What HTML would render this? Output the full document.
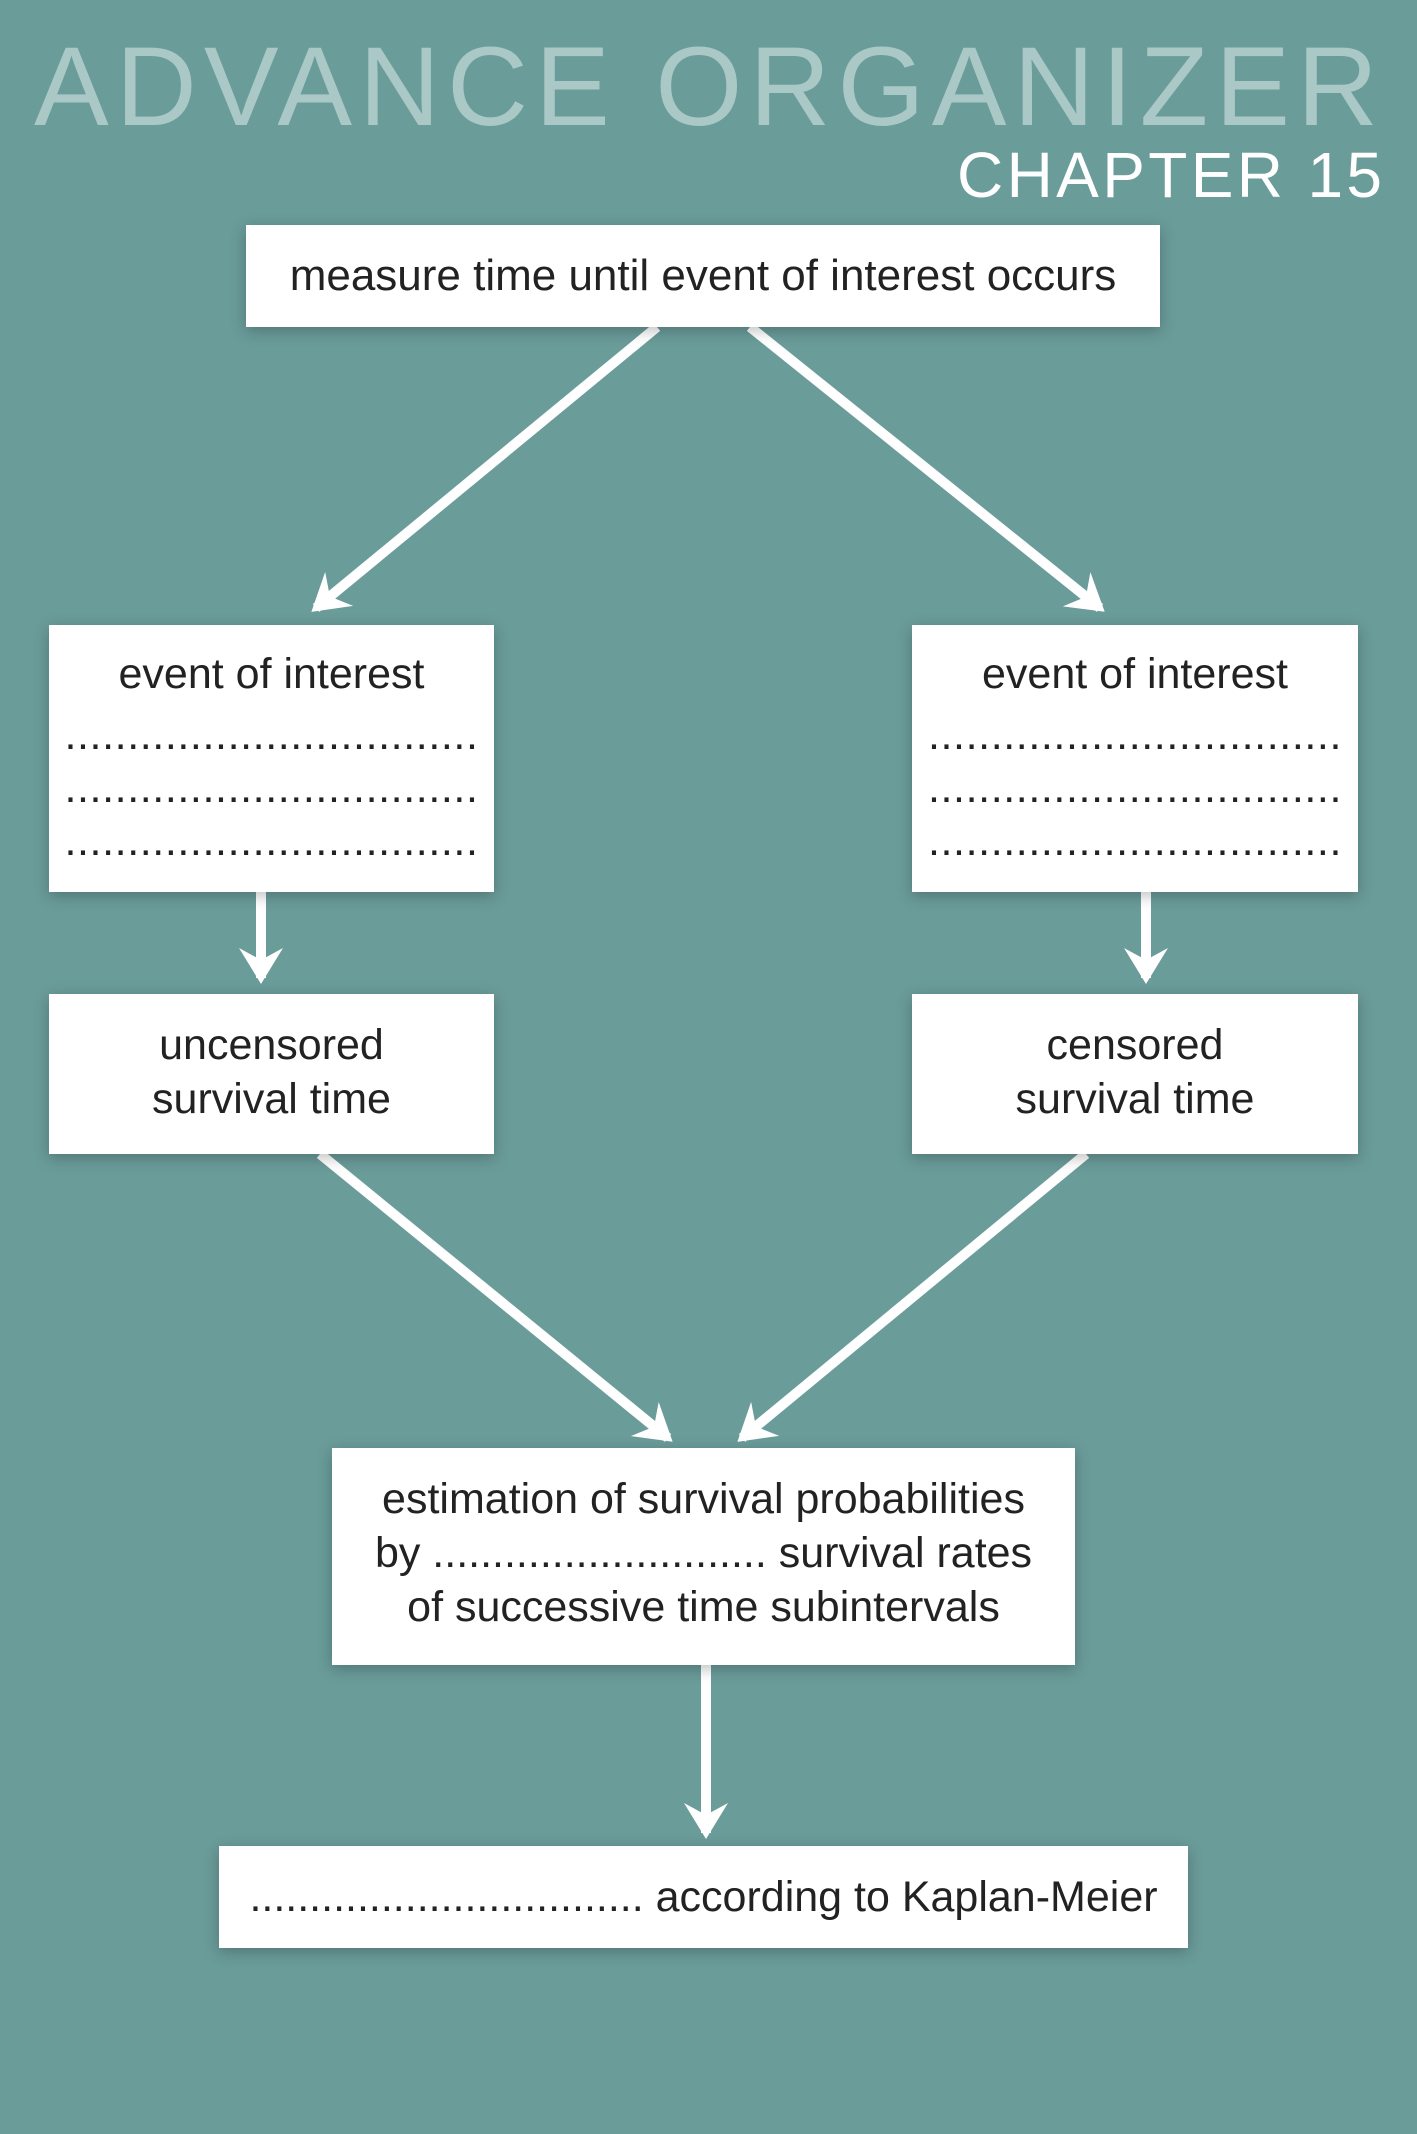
<!DOCTYPE html>
<html><head><meta charset="utf-8"><style>
html,body{margin:0;padding:0}
body{width:1417px;height:2134px;background:#6a9c9a;position:relative;overflow:hidden;font-family:"Liberation Sans",sans-serif}
.b{position:absolute;background:#fff;box-shadow:0 4px 14px rgba(0,0,0,.25);color:#222;font-size:43px;text-align:center;line-height:54px;box-sizing:border-box}
.dots{letter-spacing:0.6px;line-height:53px;white-space:nowrap;margin-top:8px;text-align:center}
svg{position:absolute;left:0;top:0}
</style></head><body>
<svg width="1417" height="2134">
<defs><marker id="a" markerUnits="userSpaceOnUse" markerWidth="50" markerHeight="50" refX="34" refY="25" orient="auto">
<path d="M40,25 L4,3 L16,25 L4,47 Z" fill="#fff"/></marker></defs>
<text x="34" y="125" textLength="1344" lengthAdjust="spacing" font-family="Liberation Sans" font-size="112" fill="#a9c8c6">ADVANCE ORGANIZER</text>
<text x="957" y="197" textLength="425" lengthAdjust="spacing" font-family="Liberation Sans" font-size="64" fill="#fff">CHAPTER 15</text>
<g stroke="#fff" stroke-width="10" fill="none" marker-end="url(#a)">
<line x1="657" y1="327" x2="316" y2="608"/>
<line x1="750" y1="327" x2="1100" y2="608"/>
<line x1="261" y1="892" x2="261" y2="978"/>
<line x1="1146" y1="892" x2="1146" y2="978"/>
<line x1="320" y1="1154" x2="668" y2="1438"/>
<line x1="1086" y1="1154" x2="742" y2="1438"/>
<line x1="706" y1="1665" x2="706" y2="1833"/>
</g></svg>
<div class="b" style="left:246px;top:225px;width:914px;height:102px;line-height:102px;font-size:44px">measure time until event of interest occurs</div>
<div class="b" style="left:49px;top:625px;width:445px;height:267px;padding:22px 0 0">event of interest<div class="dots">.................................<br>.................................<br>.................................</div></div>
<div class="b" style="left:912px;top:625px;width:446px;height:267px;padding:22px 0 0">event of interest<div class="dots">.................................<br>.................................<br>.................................</div></div>
<div class="b" style="left:49px;top:994px;width:445px;height:160px;padding-top:24px">uncensored<br>survival time</div>
<div class="b" style="left:912px;top:994px;width:446px;height:160px;padding-top:24px">censored<br>survival time</div>
<div class="b" style="left:332px;top:1448px;width:743px;height:217px;padding-top:24px">estimation of survival probabilities<br>by ............................ survival rates<br>of successive time subintervals</div>
<div class="b" style="left:219px;top:1846px;width:969px;height:102px;line-height:102px">................................. according to Kaplan-Meier</div>
</body></html>
